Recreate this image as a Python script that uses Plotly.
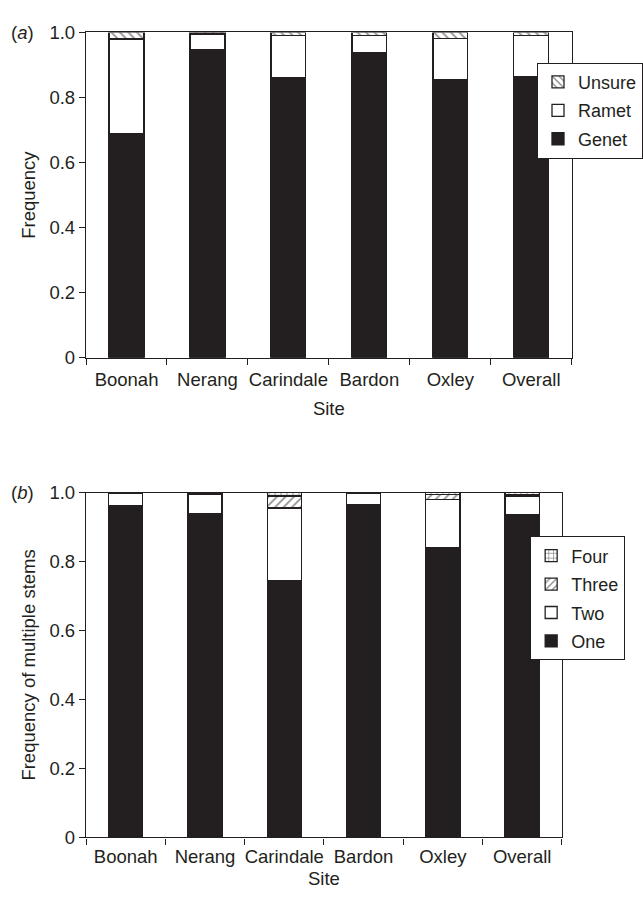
import plotly.graph_objects as go

sites = ["Boonah", "Nerang", "Carindale", "Bardon", "Oxley", "Overall"]

# Panel (a): genet / ramet / unsure
genet = [0.690, 0.948, 0.860, 0.937, 0.855, 0.865]
ramet = [0.290, 0.047, 0.130, 0.053, 0.127, 0.125]
unsure = [0.020, 0.005, 0.010, 0.010, 0.018, 0.010]

# Panel (b): number of stems
one = [0.962, 0.940, 0.745, 0.965, 0.840, 0.935]
two = [0.035, 0.055, 0.210, 0.032, 0.140, 0.055]
three = [0.002, 0.004, 0.035, 0.002, 0.015, 0.004]
four = [0.001, 0.001, 0.010, 0.001, 0.005, 0.006]

yticks = [0, 0.2, 0.4, 0.6, 0.8, 1.0]
yticktext = ["0", "0.2", "0.4", "0.6", "0.8", "1.0"]

DARK = "#231f20"
FONT = "Liberation Sans, Arial, sans-serif"
FS = 18.5

fig = go.Figure()

def add_bar(name, vals, xa, ya, legend, color, rank, pattern=""):
    fig.add_trace(go.Bar(
        x=sites, y=vals, name=name, xaxis=xa, yaxis=ya, legend=legend,
        legendrank=rank, legendgroup=name,
        marker=dict(color=color, line=dict(color=DARK, width=1.3),
                    pattern=dict(shape=pattern, fgcolor=DARK, bgcolor="white",
                                 size=6, solidity=0.3) if pattern else None),
        hoverinfo="x+y+name",
    ))

add_bar("Genet", genet, "x", "y", "legend", DARK, 3)
add_bar("Ramet", ramet, "x", "y", "legend", "white", 2)
add_bar("Unsure", unsure, "x", "y", "legend", "white", 1, "\\")

add_bar("One", one, "x2", "y2", "legend2", DARK, 4)
add_bar("Two", two, "x2", "y2", "legend2", "white", 3)
add_bar("Three", three, "x2", "y2", "legend2", "white", 2, "/")
add_bar("Four", four, "x2", "y2", "legend2", "white", 1, "+")

W, H = 643, 903

def px_dom_x(a, b):
    return [a / W, b / W]

def px_dom_y(top, bottom):
    return [1 - bottom / H, 1 - top / H]

axis_common = dict(showline=True, linecolor=DARK, linewidth=1.4, mirror=True,
                   ticks="outside", ticklen=6, tickwidth=1.3, tickcolor=DARK,
                   showgrid=False, zeroline=False,
                   tickfont=dict(size=FS, color=DARK))

fig.update_layout(
    width=W, height=H,
    margin=dict(l=0, r=0, t=0, b=0),
    paper_bgcolor="white", plot_bgcolor="white",
    font=dict(family=FONT, color=DARK),
    barmode="stack", bargap=0.57,
    xaxis=dict(domain=px_dom_x(87, 578), anchor="y", tickson="boundaries",
               tickangle=0, ticklabelstandoff=5,
               title=dict(text="Site", font=dict(size=FS), standoff=12),
               **axis_common),
    yaxis=dict(domain=px_dom_y(22, 355), anchor="x", range=[0, 1],
               tickvals=yticks, ticktext=yticktext,
               title=dict(text="Frequency", font=dict(size=FS), standoff=8),
               **axis_common),
    xaxis2=dict(domain=px_dom_x(87, 568), anchor="y2", tickson="boundaries",
                tickangle=0, ticklabelstandoff=2,
                title=dict(text="Site", font=dict(size=FS), standoff=6),
                **axis_common),
    yaxis2=dict(domain=px_dom_y(493, 846), anchor="x2", range=[0, 1],
                tickvals=yticks, ticktext=yticktext,
                title=dict(text="Frequency of multiple stems", font=dict(size=FS), standoff=8),
                **axis_common),
    legend=dict(x=543 / W, y=1 - 53 / H, xanchor="left", yanchor="top",
                traceorder="grouped", tracegroupgap=2,
                bordercolor=DARK, borderwidth=1, bgcolor="white",
                font=dict(size=18), itemclick=False),
    legend2=dict(x=536 / W, y=1 - 538 / H, xanchor="left", yanchor="top",
                 traceorder="grouped", tracegroupgap=2,
                 bordercolor=DARK, borderwidth=1, bgcolor="white",
                 font=dict(size=18), itemclick=False),
    annotations=[
        dict(text="(<i>a</i>)", x=9 / W, y=1 - 22 / H, xref="paper", yref="paper",
             xanchor="left", yanchor="middle", showarrow=False, font=dict(size=FS)),
        dict(text="(<i>b</i>)", x=9 / W, y=1 - 493 / H, xref="paper", yref="paper",
             xanchor="left", yanchor="middle", showarrow=False, font=dict(size=FS)),
    ],
    showlegend=True,
)

fig.write_html("out.html", config={"displayModeBar": False},
               post_script="document.body.style.margin='0';")
